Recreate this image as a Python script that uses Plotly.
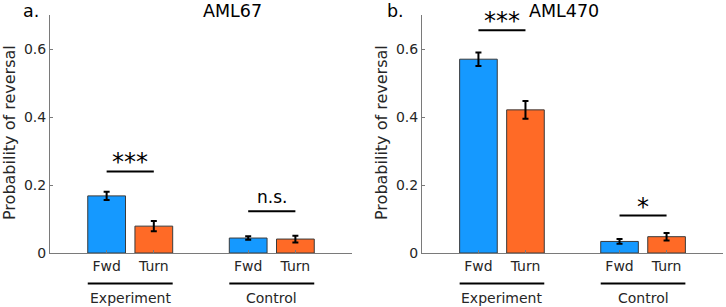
import plotly.graph_objects as go

W, H = 726, 307

categories = ["Fwd", "Turn"]
groups = ["Experiment", "Control"]
tick_labels = ["Fwd", "Turn", "Fwd", "Turn"]
panel_titles = ["AML67", "AML470"]
panel_letters = ["a.", "b."]

# values: [Experiment, Control]
aml67_fwd = [0.168, 0.044]
aml67_turn = [0.079, 0.041]
aml67_fwd_err = [0.012, 0.005]
aml67_turn_err = [0.015, 0.010]

aml470_fwd = [0.570, 0.034]
aml470_turn = [0.421, 0.048]
aml470_fwd_err = [0.020, 0.007]
aml470_turn_err = [0.026, 0.011]

aml67_sig = ["***", "n.s."]
aml67_sig_y = [0.240, 0.123]
aml470_sig = ["***", "*"]
aml470_sig_y = [0.655, 0.110]

fwd_pos = [1, 4]
turn_pos = [2, 5]

BLUE = "#1599FF"
ORANGE = "#FF6A26"
EDGE = "#3a3a3a"
FONT = "DejaVu Sans"
TXT = "#262626"

def px_x(p):
    return p / W

def px_y(p):
    return 1 - p / H

fig = go.Figure()

panels = [
    dict(fwd=aml67_fwd, turn=aml67_turn, fe=aml67_fwd_err, te=aml67_turn_err,
         sig=aml67_sig, sigy=aml67_sig_y, xd=(50, 352), title_x=201, letter_x=21),
    dict(fwd=aml470_fwd, turn=aml470_turn, fe=aml470_fwd_err, te=aml470_turn_err,
         sig=aml470_sig, sigy=aml470_sig_y, xd=(422, 723), title_x=601, letter_x=396),
]

annotations = []
shapes = []
for i, p in enumerate(panels):
    xa = "x" if i == 0 else "x2"
    ya = "y" if i == 0 else "y2"
    eb = dict(type="data", thickness=2, width=3, color="black")
    fig.add_trace(go.Bar(x=fwd_pos, y=p["fwd"], width=0.8, marker_color=BLUE,
                         marker_line=dict(color=EDGE, width=1),
                         error_y=dict(array=p["fe"], **eb), xaxis=xa, yaxis=ya,
                         showlegend=False))
    fig.add_trace(go.Bar(x=turn_pos, y=p["turn"], width=0.8, marker_color=ORANGE,
                         marker_line=dict(color=EDGE, width=1),
                         error_y=dict(array=p["te"], **eb), xaxis=xa, yaxis=ya,
                         showlegend=False))
    for g in range(2):
        x0, x1 = fwd_pos[g], turn_pos[g]
        yv = p["sigy"][g]
        shapes.append(dict(type="line", xref=xa, yref=ya, x0=x0, x1=x1, y0=yv, y1=yv,
                           line=dict(color="black", width=2)))
        txt = p["sig"][g]
        if "*" in txt:
            annotations.append(dict(xref=xa, yref=ya, x=(x0 + x1) / 2, y=yv, text=txt,
                                    showarrow=False, yanchor="middle", yshift=9,
                                    font=dict(family=FONT, size=24, color="black")))
        else:
            annotations.append(dict(xref=xa, yref=ya, x=(x0 + x1) / 2, y=yv, text=txt,
                                    showarrow=False, yanchor="middle", yshift=14,
                                    font=dict(family=FONT, size=17, color="black")))
        shapes.append(dict(type="line", xref=xa, yref="paper", x0=x0 - 0.4, x1=x1 + 0.4,
                           y0=px_y(283.5), y1=px_y(283.5), line=dict(color="black", width=2)))
        annotations.append(dict(xref=xa, yref="paper", x=(x0 + x1) / 2, y=px_y(298),
                                text=groups[g], showarrow=False, yanchor="middle",
                                font=dict(family=FONT, size=14, color=TXT)))
    annotations.append(dict(xref="paper", yref="paper", x=px_x(p["title_x"]), y=px_y(11),
                            text=panel_titles[i], showarrow=False, yanchor="middle",
                            font=dict(family=FONT, size=17.5, color="black")))
    annotations.append(dict(xref="paper", yref="paper", x=px_x(p["letter_x"]), y=px_y(11),
                            text=panel_letters[i], showarrow=False, yanchor="middle",
                            font=dict(family=FONT, size=17.5, color="black")))
    annotations.append(dict(xref="paper", yref="paper", x=px_x(p["xd"][0] - 41), y=px_y(133),
                            text="Probability of reversal", showarrow=False, textangle=-90,
                            xanchor="center", yanchor="middle",
                            font=dict(family=FONT, size=16, color=TXT)))

axis_common = dict(showgrid=False, zeroline=False, showline=True, linecolor="#7a7a7a",
                   linewidth=1, ticks="inside", ticklen=3, tickcolor="#7a7a7a",
                   automargin=False,
                   tickfont=dict(family=FONT, size=14, color=TXT))

ydom = [px_y(253), px_y(15)]
layout = dict(
    width=W, height=H, margin=dict(l=0, r=0, t=0, b=0, autoexpand=False),
    paper_bgcolor="white", plot_bgcolor="white", barmode="overlay",
    annotations=annotations, shapes=shapes,
    xaxis=dict(domain=[px_x(50), px_x(352)], range=[-0.2, 6.2], tickvals=[1, 2, 4, 5],
               ticktext=tick_labels, anchor="y", **axis_common),
    xaxis2=dict(domain=[px_x(422), px_x(723)], range=[-0.2, 6.2], tickvals=[1, 2, 4, 5],
                ticktext=tick_labels, anchor="y2", **axis_common),
    yaxis=dict(domain=ydom, range=[0, 0.7], tickvals=[0, 0.2, 0.4, 0.6],
               ticktext=["0", "0.2", "0.4", "0.6"], anchor="x", **axis_common),
    yaxis2=dict(domain=ydom, range=[0, 0.7], tickvals=[0, 0.2, 0.4, 0.6],
                ticktext=["0", "0.2", "0.4", "0.6"], anchor="x2", **axis_common),
)
fig.update_layout(**layout)
fig.write_html("out.html", config={"displayModeBar": False},
               post_script="document.body.style.margin='0';document.body.style.overflow='hidden';")
